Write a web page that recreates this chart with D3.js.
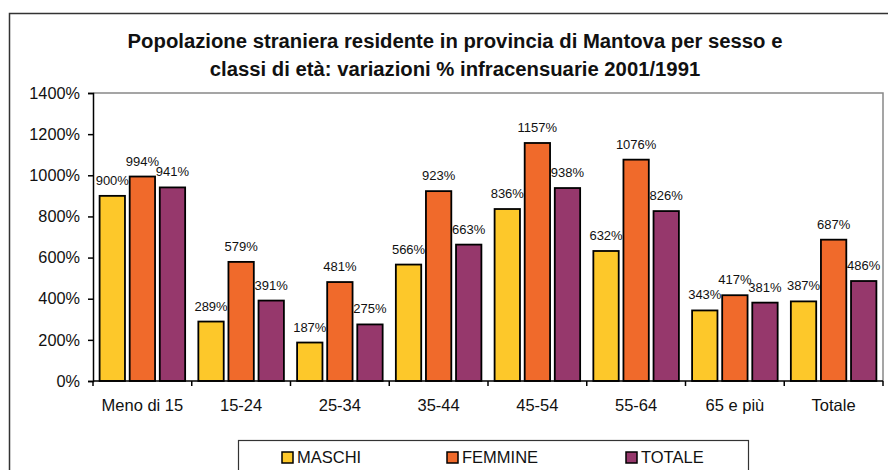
<!DOCTYPE html>
<html>
<head>
<meta charset="utf-8">
<script src="https://cdn.jsdelivr.net/npm/d3@7"></script>
<style>
  body { margin: 0; background: #fff; }
  svg { display: block; font-family: "Liberation Sans", Arial, Helvetica, sans-serif; }
</style>
</head>
<body>
<svg width="888" height="470"></svg>
<script>
// data
const categories = ["Meno di 15", "15-24", "25-34", "35-44", "45-54", "55-64", "65 e più", "Totale"];
const seriesNames = ["MASCHI", "FEMMINE", "TOTALE"];
const maschi = [900, 289, 187, 566, 836, 632, 343, 387];
const femmine = [994, 579, 481, 923, 1157, 1076, 417, 687];
const totale = [941, 391, 275, 663, 938, 826, 381, 486];
const yTicks = [0, 200, 400, 600, 800, 1000, 1200, 1400];
const colors = ["#fdc82a", "#f06a2b", "#96386c"];

const titleLines = [
  "Popolazione straniera residente in provincia di Mantova per sesso e",
  "classi di età: variazioni % infracensuarie 2001/1991"
];

let svg = d3.select('svg');
let width = +svg.attr('width');
let height = +svg.attr('height');
let margin = { top: 93, bottom: 89, left: 93, right: 5 };

let values = [maschi, femmine, totale];
let rows = categories.map((c, i) => ({
  cat: c,
  vals: seriesNames.map((s, j) => ({ key: s, value: values[j][i], idx: j }))
}));

// outer frame (runs off the right and bottom edge like the original)
svg.append("rect")
  .attr("x", 9.5).attr("y", 13.5)
  .attr("width", 950).attr("height", 520)
  .attr("fill", "none")
  .attr("stroke", "#333")
  .attr("stroke-width", 1.5);

// title
svg.append("g").selectAll("text")
  .data(titleLines)
  .enter().append("text")
    .attr("x", 455)
    .attr("y", (d, i) => 48 + i * 28)
    .attr("text-anchor", "middle")
    .attr("font-size", 20.3)
    .attr("font-weight", "bold")
    .attr("fill", "#111")
    .text(d => d);

let x0 = d3.scaleBand()
  .domain(categories)
  .range([margin.left, width - margin.right])
  .paddingInner(0).paddingOuter(0);

let groupPad = 6.6;
let x1 = d3.scaleBand()
  .domain(seriesNames)
  .range([groupPad, x0.bandwidth() - groupPad])
  .paddingInner(0.157);

let y = d3.scaleLinear()
  .domain([0, 1400])
  .range([height - margin.bottom, margin.top]);

// plot area border (grey top/right)
svg.append("path")
  .attr("d", `M${margin.left},${y(1400)}H${width - margin.right}V${y(0)}`)
  .attr("fill", "none")
  .attr("stroke", "#888")
  .attr("stroke-width", 1.5);

// bars
let groups = svg.append("g").selectAll("g")
  .data(rows)
  .enter().append("g")
    .attr("transform", d => `translate(${x0(d.cat)},0)`);

groups.selectAll("rect")
  .data(d => d.vals)
  .enter().append("rect")
    .attr("x", d => x1(d.key))
    .attr("y", d => y(d.value))
    .attr("width", x1.bandwidth())
    .attr("height", d => y(0) - y(d.value))
    .attr("fill", d => colors[d.idx])
    .attr("stroke", "#000")
    .attr("stroke-width", 1.8);

groups.selectAll("text")
  .data(d => d.vals)
  .enter().append("text")
    .attr("x", d => x1(d.key) + x1.bandwidth() / 2)
    .attr("y", d => y(d.value) - 11)
    .attr("text-anchor", "middle")
    .attr("font-size", 13)
    .attr("fill", "#111")
    .text(d => d.value + "%");

// y axis
let gy = svg.append("g")
  .attr("transform", `translate(${margin.left},0)`)
  .call(d3.axisLeft(y).tickValues(yTicks).tickSize(5).tickPadding(8)
    .tickFormat(d => d + "%"));
gy.select(".domain").attr("stroke-width", 1.5);
gy.selectAll(".tick line").attr("stroke-width", 1.5);
gy.selectAll(".tick text").attr("font-size", 16.3).attr("font-family", null).attr("fill", "#111");

// x axis with ticks at category boundaries
let gx = svg.append("g")
  .attr("transform", `translate(0,${y(0)})`);
gx.append("line")
  .attr("x1", margin.left).attr("x2", width - margin.right)
  .attr("stroke", "#000").attr("stroke-width", 1.5);
gx.selectAll(".sep")
  .data(categories.concat([null]))
  .enter().append("line")
    .attr("class", "sep")
    .attr("x1", (d, i) => margin.left + i * x0.step())
    .attr("x2", (d, i) => margin.left + i * x0.step())
    .attr("y1", 0).attr("y2", 5)
    .attr("stroke", "#000").attr("stroke-width", 1.5);
gx.selectAll(".lbl")
  .data(categories)
  .enter().append("text")
    .attr("class", "lbl")
    .attr("x", d => x0(d) + x0.bandwidth() / 2)
    .attr("y", 30)
    .attr("text-anchor", "middle")
    .attr("font-size", 16.5)
    .attr("fill", "#111")
    .text(d => d);

// legend
let legend = svg.append("g");
legend.append("rect")
  .attr("x", 238.5).attr("y", 440.5)
  .attr("width", 510).attr("height", 60)
  .attr("fill", "#fff")
  .attr("stroke", "#333")
  .attr("stroke-width", 1.2);

let legendX = [282, 447, 626];
let items = legend.selectAll(".item")
  .data(seriesNames)
  .enter().append("g")
    .attr("class", "item")
    .attr("transform", (d, i) => `translate(${legendX[i]},452)`);
items.append("rect")
  .attr("width", 11).attr("height", 11)
  .attr("fill", (d, i) => colors[i])
  .attr("stroke", "#000").attr("stroke-width", 1.5);
items.append("text")
  .attr("x", 15).attr("y", 11)
  .attr("font-size", 16.5)
  .attr("fill", "#111")
  .text(d => d);
</script>
</body>
</html>
